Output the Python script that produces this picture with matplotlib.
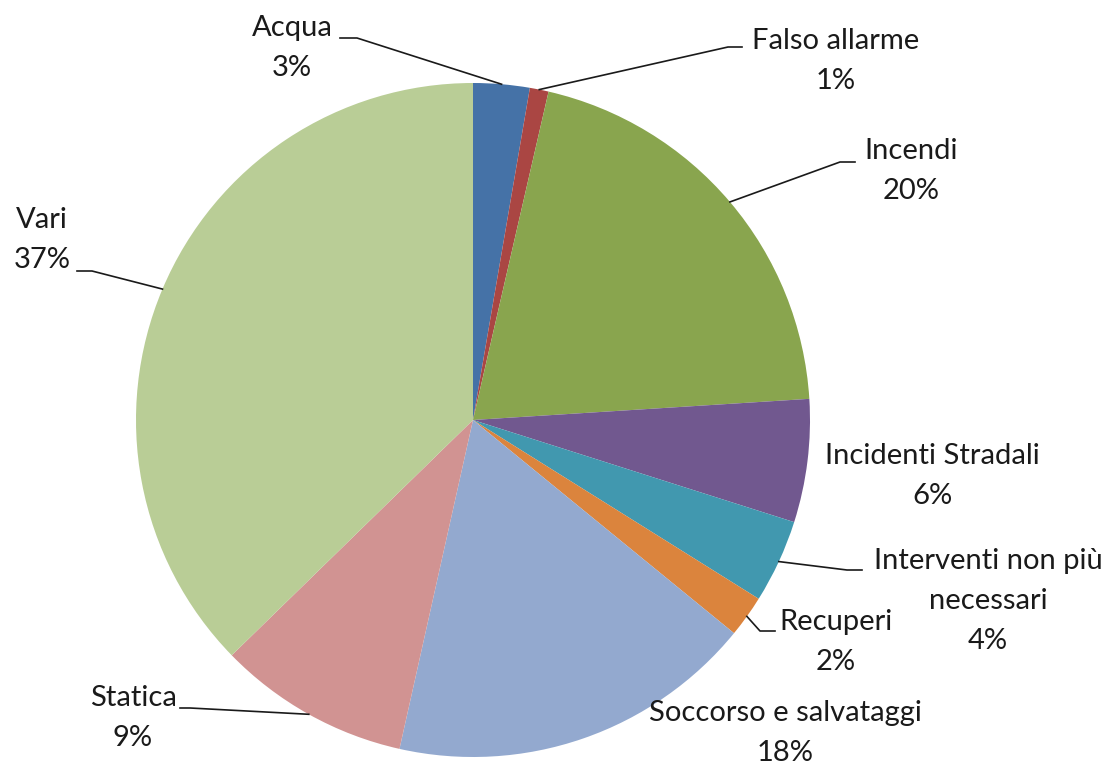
import numpy as np
import matplotlib
matplotlib.use("Agg")
import matplotlib.pyplot as plt

# Dati (percentuali)
categorie = ["Acqua", "Falso allarme", "Incendi", "Incidenti Stradali",
             "Interventi non più\nnecessari", "Recuperi", "Soccorso e salvataggi",
             "Statica", "Vari"]
valori = [2.7, 0.9, 20.4, 5.9, 4.0, 2.0, 17.6, 9.2, 37.3]
colori = ["#4572A7", "#AA4643", "#89A54E", "#71588F", "#4198AF",
          "#DB843D", "#93A9CF", "#D19392", "#B9CD96"]

# posizione etichette (pixel) e gomito della linea guida (None = nessuna linea)
pos_etichette = [(292, 48), (836, 61), (911, 171), (932, 476), (988, 601),
                 (836, 642), (785, 733), (133, 718), (42, 240)]
gomiti = [[(357, 38), (340, 38)],
          [(728, 47), (742, 47)],
          [(840, 162), (855, 162)],
          None,
          [(847, 570), (862, 570)],
          [(760, 631), (775, 631)],
          None,
          [(190, 708), (180, 708)],
          [(92, 271), (77, 271)]]

W, H = 1118, 768
cx, cy, r = 473, 420, 337
interlinea = 40  # pixel tra le righe di un'etichetta

fig = plt.figure(figsize=(W / 100, H / 100), dpi=100)
ax = fig.add_axes([0, 0, 1, 1])

wedges, _ = ax.pie(valori, colors=colori, startangle=90, counterclock=False,
                   center=(cx, H - cy), radius=r, frame=True,
                   wedgeprops=dict(linewidth=0))
ax.set_xlim(0, W)
ax.set_ylim(0, H)
ax.set_aspect("equal")
ax.axis("off")

for w, nome, v, (tx, ty), g in zip(wedges, categorie, valori, pos_etichette, gomiti):
    righe = f"{nome}\n{v:.0f}%".split("\n")
    n = len(righe)
    for i, riga in enumerate(righe):
        y = ty + (i - (n - 1) / 2) * interlinea
        ax.text(tx, H - y, riga, ha="center", va="center",
                fontsize=21, family="Lato", color="#1a1a1a")
    if g is None:
        continue
    ang = np.deg2rad((w.theta1 + w.theta2) / 2)
    px = cx + r * np.cos(ang)
    py = (H - cy) + r * np.sin(ang)
    xs = [px] + [p[0] for p in g]
    ys = [py] + [H - p[1] for p in g]
    ax.plot(xs, ys, color="#1a1a1a", lw=1.2)

fig.savefig("out.png", dpi=100, facecolor="white")
